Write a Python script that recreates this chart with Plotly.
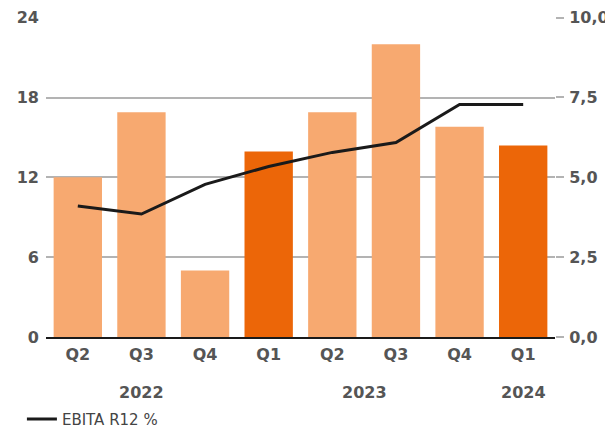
import plotly.graph_objects as go

quarters = ["Q2", "Q3", "Q4", "Q1", "Q2", "Q3", "Q4", "Q1"]
years = ["2022", "2023", "2024"]
year_pos = [1, 4.5, 7]
bar_values = [12.0, 16.9, 5.0, 13.95, 16.9, 22.0, 15.8, 14.4]
bar_colors = ["#F7A970", "#F7A970", "#F7A970", "#EC6608",
              "#F7A970", "#F7A970", "#F7A970", "#EC6608"]
ebita_r12 = [4.1, 3.85, 4.78, 5.34, 5.78, 6.09, 7.28, 7.28]
left_ticks = [0, 6, 12, 18, 24]
right_ticks = [0, 2.5, 5, 7.5, 10]
right_labels = ["0,0", "2,5", "5,0", "7,5", "10,0"]

x = list(range(len(quarters)))

fig = go.Figure()
fig.add_trace(go.Bar(x=x, y=bar_values, marker=dict(color=bar_colors, line=dict(width=0)),
                     width=0.76, showlegend=False, hoverinfo="skip"))
fig.add_trace(go.Scatter(x=x, y=ebita_r12, yaxis="y2", mode="lines",
                         line=dict(color="#1a1a1a", width=3),
                         name="EBITA R12 %"))

for yr, p in zip(years, year_pos):
    fig.add_annotation(x=p, y=-0.172, xref="x", yref="paper", yanchor="middle",
                       text="<b>" + yr + "</b>",
                       showarrow=False, font=dict(size=16, color="#555555", family="DejaVu Sans"))

fig.update_layout(
    width=605, height=420,
    margin=dict(l=38, r=58, t=9, b=91),
    paper_bgcolor="white", plot_bgcolor="white",
    font=dict(family="DejaVu Sans", color="#555555"),
    xaxis=dict(tickvals=x, ticktext=["<b>" + q + "</b>" for q in quarters],
               range=[-0.5, 7.5], showgrid=False, showline=True, linecolor="#1a1a1a",
               linewidth=2, ticks="", tickfont=dict(size=16, color="#555555"), zeroline=False,
               automargin=False, ticklabelstandoff=2),
    yaxis=dict(range=[0, 24.05], tickvals=left_ticks, ticktext=["<b>%d</b>" % v for v in left_ticks],
               showgrid=True, gridcolor="#b3b3b3", gridwidth=2, zeroline=False,
               tickfont=dict(size=16, color="#555555"), ticks="", ticklabelstandoff=6,
               automargin=False),
    yaxis2=dict(range=[0, 10.02], tickvals=right_ticks, ticktext=["<b>" + t + "</b>" for t in right_labels],
                overlaying="y", side="right", showgrid=False, zeroline=False,
                ticks="outside", ticklen=8, tickwidth=2, tickcolor="#b3b3b3",
                tickfont=dict(size=16, color="#555555"), automargin=False,
                ticklabelstandoff=2),
    legend=dict(orientation="h", xref="container", yref="container",
                x=0.023, xanchor="left", y=0.021, yanchor="middle",
                font=dict(size=15, color="#444444", family="DejaVu Sans")),
)

fig.write_html("out.html")
